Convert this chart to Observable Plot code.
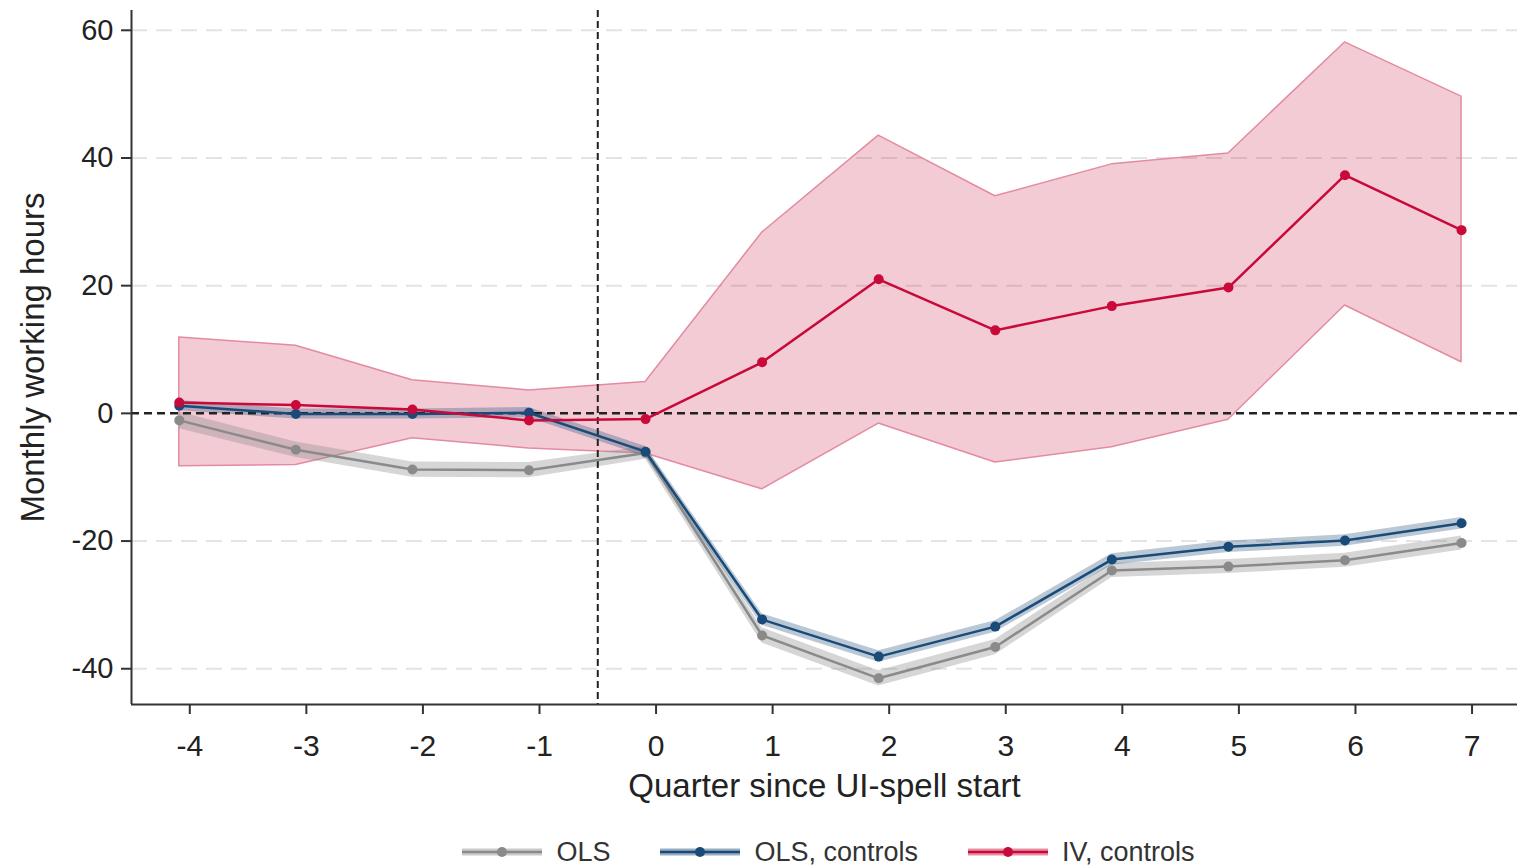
<!DOCTYPE html>
<html>
<head>
<meta charset="utf-8">
<script src="https://cdn.jsdelivr.net/npm/d3@7"></script>
<script src="https://cdn.jsdelivr.net/npm/@observablehq/plot@0.6"></script>
<style>
  html, body { margin: 0; padding: 0; background: #fff; }
  body { width: 1517px; height: 868px; overflow: hidden; font-family: "Liberation Sans", Arial, sans-serif; }
  #legend { display: flex; justify-content: center; align-items: center; height: 44px; padding-left: 140px; color: #333; font-size: 27px; }
  .item { display: flex; align-items: center; margin: 0 25px; }
  .item svg { margin-right: 14px; }
</style>
</head>
<body>
<div id="chart"></div>
<div id="legend"></div>
<script>
// ---- data ----
const quarters = [-4, -3, -2, -1, 0, 1, 2, 3, 4, 5, 6, 7];
const yTicks = [-40, -20, 0, 20, 40, 60];
const gridValues = [-40, -20, 20, 40, 60];

const olsEst = [-1.1, -5.7, -8.8, -8.9, -6.2, -34.8, -41.5, -36.6, -24.6, -24.0, -23.0, -20.3];
const olsLo  = [-2.4, -6.9, -10.0, -10.1, -7.2, -36.0, -42.7, -37.8, -25.7, -25.1, -24.1, -21.4];
const olsHi  = [0.2, -4.5, -7.6, -7.7, -5.2, -33.6, -40.3, -35.4, -23.5, -22.9, -21.9, -19.2];

const olsCtrlEst = [1.2, -0.1, -0.1, 0.1, -6.0, -32.3, -38.1, -33.4, -22.9, -20.9, -19.9, -17.2];
const olsCtrlLo  = [0.4, -0.9, -0.9, -0.7, -6.8, -33.2, -39.0, -34.3, -23.8, -21.8, -20.8, -18.1];
const olsCtrlHi  = [2.0, 0.7, 0.7, 0.9, -5.2, -31.4, -37.2, -32.5, -22.0, -20.0, -19.0, -16.3];

const ivEst = [1.7, 1.3, 0.6, -1.1, -0.9, 8.0, 21.0, 13.0, 16.8, 19.7, 37.3, 28.7];
const ivLo  = [-8.3, -8.1, -3.9, -5.5, -6.3, -11.9, -1.6, -7.7, -5.3, -1.0, 16.9, 8.0];
const ivHi  = [11.9, 10.6, 5.2, 3.6, 4.9, 28.3, 43.5, 34.0, 39.0, 40.7, 58.1, 49.6];

const seriesNames = ["OLS", "OLS, controls", "IV, controls"];
const seriesColors = ["#8a8a8a", "#1a4a78", "#c8093a"];

const xLabel = "Quarter since UI-spell start";
const yLabel = "Monthly working hours";

// plotting offset of estimates relative to quarter ticks
const shift = -0.09;

function table(est, lo, hi) {
  return quarters.map((q, i) => ({ q: q + shift, est: est[i], lo: lo[i], hi: hi[i] }));
}
const ols = table(olsEst, olsLo, olsHi);
const olsC = table(olsCtrlEst, olsCtrlLo, olsCtrlHi);
const iv = table(ivEst, ivLo, ivHi);

const fmt = d => String(d);

const chart = Plot.plot({
  width: 1517,
  height: 830,
  marginTop: 10,
  marginBottom: 126,
  marginLeft: 131,
  marginRight: 0,
  x: { domain: [-4.5, 7.39] },
  y: { domain: [-45.6, 63.1] },
  style: { fontFamily: "'Liberation Sans', Arial, sans-serif", color: "#222", background: "#fff", overflow: "visible" },
  marks: [
    Plot.ruleY(gridValues, { stroke: "#e4e4e4", strokeWidth: 2, strokeDasharray: "16,9" }),
    Plot.areaY(iv, { x: "q", y1: "lo", y2: "hi", fill: seriesColors[2], fillOpacity: 0.21, stroke: "#e38ba1", strokeWidth: 1.5 }),
    Plot.areaY(ols, { x: "q", y1: "lo", y2: "hi", fill: seriesColors[0], fillOpacity: 0.35 }),
    Plot.areaY(olsC, { x: "q", y1: "lo", y2: "hi", fill: seriesColors[1], fillOpacity: 0.3 }),
    Plot.ruleY([0], { stroke: "#222", strokeWidth: 2.5, strokeDasharray: "8,5" }),
    Plot.ruleX([-0.5], { stroke: "#222", strokeWidth: 2, strokeDasharray: "7,4" }),
    Plot.line(ols, { x: "q", y: "est", stroke: seriesColors[0], strokeWidth: 2.5 }),
    Plot.dot(ols, { x: "q", y: "est", fill: seriesColors[0], r: 5 }),
    Plot.line(olsC, { x: "q", y: "est", stroke: seriesColors[1], strokeWidth: 2.5 }),
    Plot.dot(olsC, { x: "q", y: "est", fill: seriesColors[1], r: 5 }),
    Plot.line(iv, { x: "q", y: "est", stroke: seriesColors[2], strokeWidth: 2.5 }),
    Plot.dot(iv, { x: "q", y: "est", fill: seriesColors[2], r: 5 }),
    Plot.ruleX([-4.5], { stroke: "#333", strokeWidth: 2 }),
    Plot.ruleY([-45.6], { stroke: "#333", strokeWidth: 2 }),
    Plot.axisX(quarters, { tickSize: 10, tickPadding: 20, fontSize: 30, label: null, tickFormat: fmt, stroke: "#333", strokeWidth: 2 }),
    Plot.axisY(yTicks, { tickSize: 10, tickPadding: 8, fontSize: 29, label: null, tickFormat: fmt, stroke: "#333", strokeWidth: 2 }),
    Plot.text([xLabel], { frameAnchor: "bottom", dy: 82, lineAnchor: "middle", textAnchor: "middle", text: d => d, fontSize: 33, fill: "#222" }),
    Plot.text([yLabel], { frameAnchor: "left", dx: -98, rotate: -90, textAnchor: "middle", lineAnchor: "middle", text: d => d, fontSize: 33, fill: "#222" })
  ]
});
document.getElementById("chart").appendChild(chart);

// legend
const legend = document.getElementById("legend");
seriesNames.forEach((name, i) => {
  const item = document.createElement("div");
  item.className = "item";
  const c = seriesColors[i];
  item.innerHTML = `<svg width="80" height="16" viewBox="0 0 80 16">
      <line x1="0" y1="8" x2="80" y2="8" stroke="${c}" stroke-opacity="0.45" stroke-width="7"/>
      <line x1="0" y1="8" x2="80" y2="8" stroke="${c}" stroke-width="2.5"/>
      <circle cx="40" cy="8" r="5" fill="${c}"/>
    </svg><span>${name}</span>`;
  legend.appendChild(item);
});
</script>
</body>
</html>
